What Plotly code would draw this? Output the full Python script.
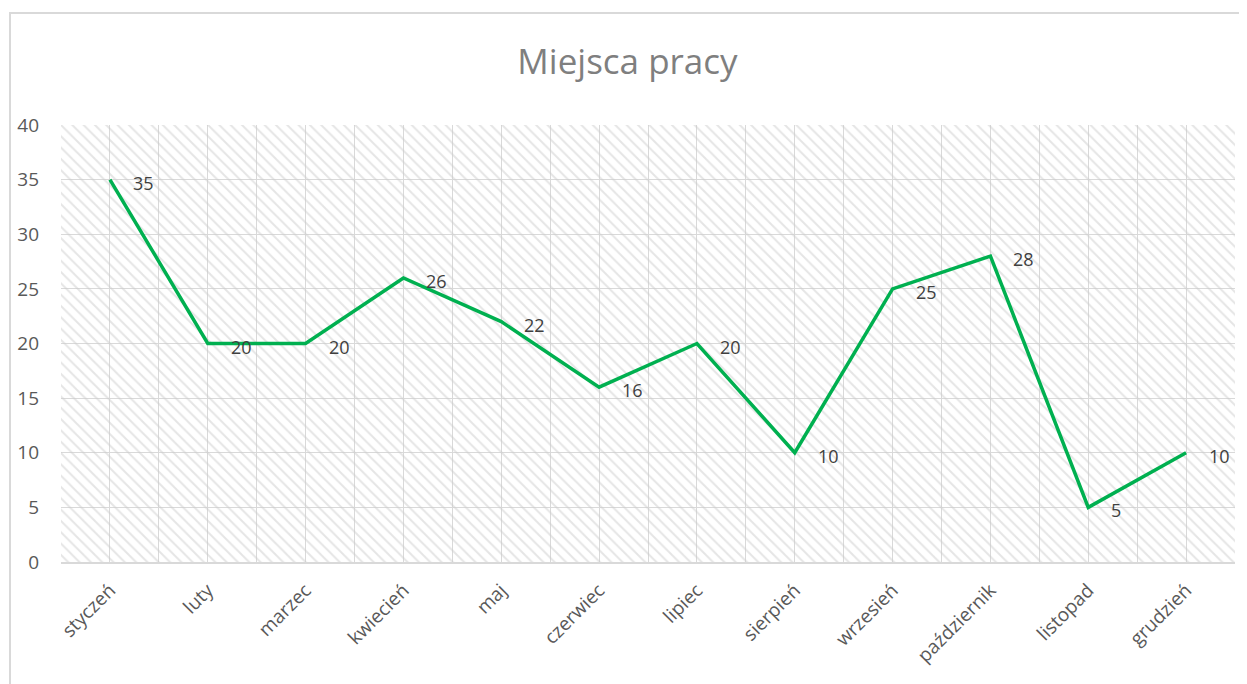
import plotly.graph_objects as go

months = ["styczeń", "luty", "marzec", "kwiecień", "maj", "czerwiec",
          "lipiec", "sierpień", "wrzesień", "październik", "listopad", "grudzień"]
values = [35, 20, 20, 26, 22, 16, 20, 10, 25, 28, 5, 10]
y_ticks = [0, 5, 10, 15, 20, 25, 30, 35, 40]
title = "Miejsca pracy"

FONT = "Open Sans"
OFF = 8  # default page margin of the html body
W, H = 1247 - OFF, 684 - OFF
ML, MR, MT, MB = 61 - OFF, 12, 125 - OFF, 122
xs = list(range(len(months)))
x_lo, x_hi = -0.5, len(months) - 0.5
y_lo, y_hi = y_ticks[0], y_ticks[-1]

fig = go.Figure()

# hatched plot-area background (transparent between hatch lines so the grid shows)
fig.add_trace(go.Scatter(
    x=[x_lo, x_hi, x_hi, x_lo, x_lo], y=[y_lo, y_lo, y_hi, y_hi, y_lo],
    mode="lines", line=dict(width=0), fill="toself",
    fillcolor="rgba(0,0,0,0)",
    fillpattern=dict(shape="\\", fgcolor="#cccccc", bgcolor="rgba(0,0,0,0)",
                     size=8, solidity=0.25),
    hoverinfo="skip", showlegend=False))

fig.add_trace(go.Scatter(
    x=xs, y=values, mode="lines",
    line=dict(color="#00b050", width=3.5),
    showlegend=False))

for x, v in zip(xs, values):
    fig.add_annotation(x=x, y=v, text=str(v), showarrow=False,
                       xanchor="left", yanchor="middle", xshift=21, yshift=-3,
                       font=dict(family=FONT, size=18, color="#404040"))

# outer chart border (page pixel coords -> paper coords)
px = lambda p: (p - OFF - ML) / (W - ML - MR)
py = lambda p: (H - MB - (p - OFF)) / (H - MT - MB)
fig.add_shape(type="rect", xref="paper", yref="paper",
              x0=px(10), x1=px(1247 + 20), y0=py(684 + 20), y1=py(13),
              line=dict(color="#d9d9d9", width=2), layer="below")

fig.update_layout(
    width=W, height=H,
    margin=dict(l=ML, r=MR, t=MT, b=MB, autoexpand=False),
    paper_bgcolor="white", plot_bgcolor="white",
    title=dict(text=title, x=0.5, xanchor="center", y=1 - (62 - OFF) / H, yanchor="middle",
               automargin=False,
               font=dict(family=FONT, size=35, color="#7f7f7f")),
    xaxis=dict(range=[x_lo, x_hi], tickvals=xs, ticktext=months, tickangle=-45,
               showgrid=True, gridcolor="#d9d9d9", gridwidth=1,
               minor=dict(dtick=0.5, tick0=x_lo, showgrid=True, gridcolor="#d9d9d9", gridwidth=1),
               showline=True, linecolor="#d9d9d9", linewidth=1.5, zeroline=False,
               ticks="", tickfont=dict(family=FONT, size=19, color="#595959"),
               ticklabelstandoff=8, automargin=False, fixedrange=True),
    yaxis=dict(range=[y_lo, y_hi], tickvals=y_ticks, showgrid=True, gridcolor="#d9d9d9",
               gridwidth=1, zeroline=False, showline=False, ticks="",
               tickfont=dict(family=FONT, size=19, color="#595959"),
               ticklabelstandoff=21, automargin=False, fixedrange=True),
)

fig.write_html("out.html")
